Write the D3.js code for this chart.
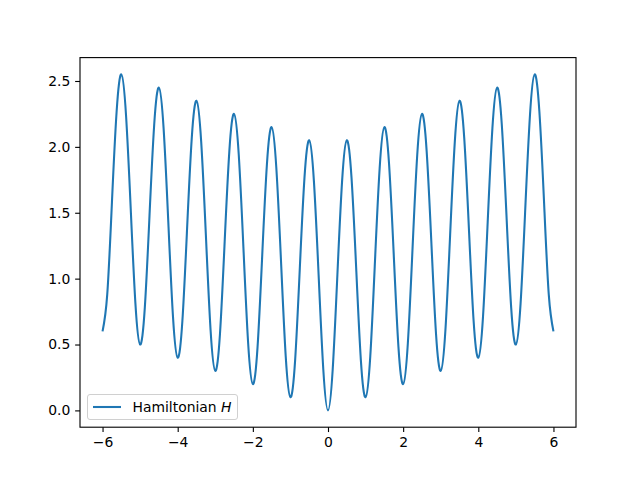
<!DOCTYPE html>
<html><head><meta charset="utf-8">
<script src="https://cdn.jsdelivr.net/npm/d3@7"></script>
<style>body{margin:0;background:#fff;} text{font-family:"DejaVu Sans",sans-serif;}</style>
</head><body>
<svg id="c" width="640" height="480"></svg>
<script>
// x positions sampled every 0.125 from -6 to 6
const xStart = -6, xStep = 0.125;
// H values (positive half, x = 0 .. 6)
const hPos = [0.00,0.31,1.03,1.74,2.05,1.77,1.08,0.38,
  0.10,0.41,1.13,1.84,2.15,1.87,1.18,0.48,
  0.20,0.51,1.23,1.94,2.25,1.97,1.28,0.58,
  0.30,0.61,1.33,2.04,2.35,2.07,1.38,0.68,
  0.40,0.71,1.43,2.14,2.45,2.17,1.48,0.78,
  0.50,0.81,1.53,2.24,2.55,2.27,1.58,0.88,
  0.60];
// negative half (x = -6 .. -0.125), mirror of the picture
const hNeg = [0.60,0.88,1.58,2.27,2.55,2.24,1.53,0.81,
  0.50,0.78,1.48,2.17,2.45,2.14,1.43,0.71,
  0.40,0.68,1.38,2.07,2.35,2.04,1.33,0.61,
  0.30,0.58,1.28,1.97,2.25,1.94,1.23,0.51,
  0.20,0.48,1.18,1.87,2.15,1.84,1.13,0.41,
  0.10,0.38,1.08,1.77,2.05,1.74,1.03,0.31];
const hValues = hNeg.concat(hPos);
const xTicks = [-6,-4,-2,0,2,4,6];
const yTicks = [0.0,0.5,1.0,1.5,2.0,2.5];
const seriesLabel = "Hamiltonian ";
const seriesVar = "H";

const data = hValues.map((v,i)=>({x: xStart + i*xStep, y: v}));
const L=80, R=576, T=57.6, B=427.2;
const x = d3.scaleLinear().domain([-6.6,6.6]).range([L,R]);
const y = d3.scaleLinear().domain([-0.1275,2.6775]).range([B,T]);
const svg = d3.select("#c");
const fmtX = d=> d<0 ? "\u2212"+Math.abs(d) : ""+d;
const fmtY = d=> d.toFixed(1);

svg.append("path").datum(data)
  .attr("fill","none").attr("stroke","#1f77b4").attr("stroke-width",2.08)
  .attr("stroke-linejoin","round").attr("stroke-linecap","butt")
  .attr("d", d3.line().x(d=>x(d.x)).y(d=>y(d.y)).curve(d3.curveNatural));

const gx = svg.append("g").attr("transform",`translate(0,${B})`)
  .call(d3.axisBottom(x).tickValues(xTicks).tickFormat(fmtX).tickSize(4.86).tickPadding(4.86));
const gy = svg.append("g").attr("transform",`translate(${L},0)`)
  .call(d3.axisLeft(y).tickValues(yTicks).tickFormat(fmtY).tickSize(4.86).tickPadding(4.86));
[gx,gy].forEach(g=>{
  g.select(".domain").remove();
  g.selectAll("line").attr("stroke","#000").attr("stroke-width",1.11);
  g.selectAll("text").attr("font-size","13.9px").attr("fill","#000").attr("font-family","DejaVu Sans");
});
svg.append("rect").attr("x",L).attr("y",T).attr("width",R-L).attr("height",B-T)
  .attr("fill","none").attr("stroke","#000").attr("stroke-width",1.11);

// legend
const lg = svg.append("g");
lg.append("rect").attr("x",87.5).attr("y",394.5).attr("width",150).attr("height",25)
  .attr("rx",2.5).attr("fill","#fff").attr("fill-opacity",0.8).attr("stroke","#d0d0d0").attr("stroke-width",1);
lg.append("line").attr("x1",93).attr("x2",121).attr("y1",407).attr("y2",407)
  .attr("stroke","#1f77b4").attr("stroke-width",2.08);
const t = lg.append("text").attr("x",132.5).attr("y",412).attr("font-size","13.9px").attr("fill","#000");
t.append("tspan").text(seriesLabel);
t.append("tspan").attr("font-style","italic").text(seriesVar);
</script>
</body></html>
